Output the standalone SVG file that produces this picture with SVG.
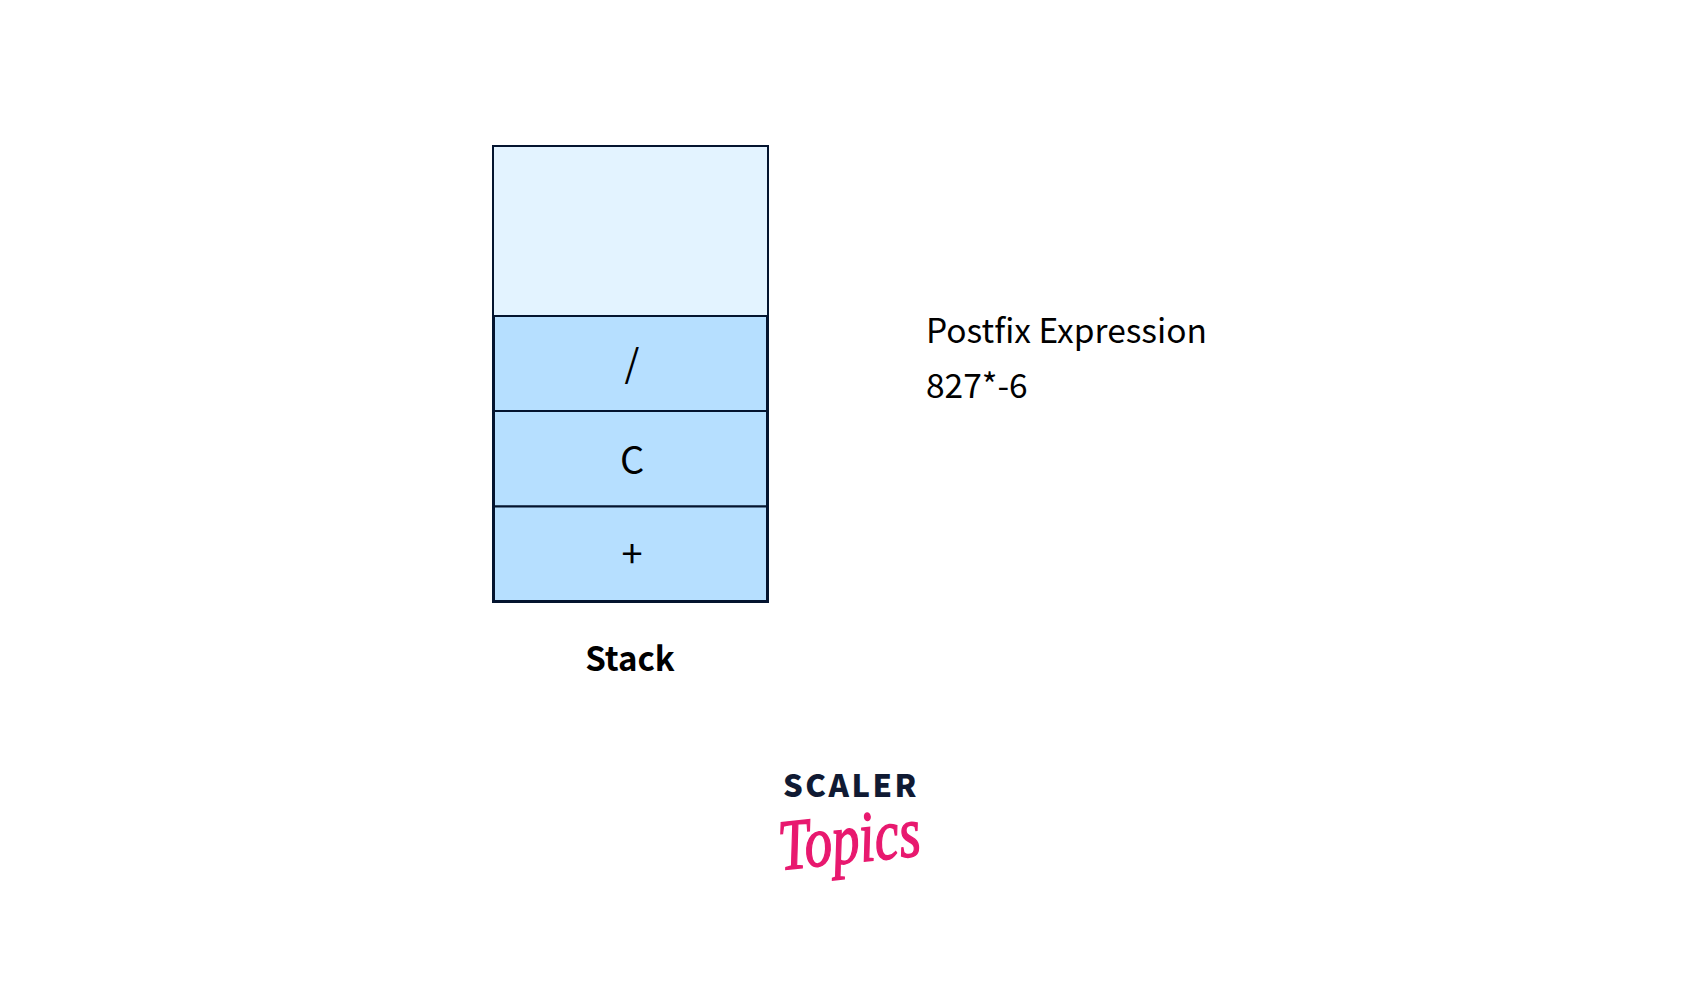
<svg xmlns="http://www.w3.org/2000/svg" width="1700" height="984" viewBox="0 0 1700 984">
<style>
text{font-family:"Noto Sans CJK SC","Noto Sans",sans-serif;fill:#000}
.cell{fill:#b6dfff;stroke:#04142f;stroke-width:2}
.lab{font-size:38px;text-anchor:middle}
.side{font-size:33.500px}
</style>
<rect width="1700" height="984" fill="#fff"/>
<g id="stack">
<rect id="stack-empty" x="493" y="146" width="275" height="170" fill="#e3f3ff" stroke="#04142f" stroke-width="2"/>
<g id="cell-slash"><rect class="cell" x="494" y="316" width="273.500" height="95"/><text class="lab" x="632" y="377">/</text></g>
<g id="cell-c"><rect class="cell" x="494" y="411" width="273.500" height="95.500"/><text class="lab" x="632" y="474">C</text></g>
<g id="cell-plus"><rect class="cell" x="494" y="506.500" width="273.500" height="95"/><text class="lab" x="632" y="568">+</text></g>
<path d="M493.500 316V601.500H767.500V316" fill="none" stroke="#04142f" stroke-width="3"/>
</g>
<g id="stack-label"><text x="630" y="671" text-anchor="middle" font-size="33" font-weight="600">Stack</text></g>
<g id="postfix"><text class="side" x="926" y="343">Postfix Expression</text><text class="side" x="926" y="398">827*-6</text></g>
<g id="logo">
<text x="851" y="797" text-anchor="middle" font-size="31" font-weight="800" letter-spacing="2.500" style="fill:#101a33">SCALER</text>
<text transform="translate(781 870) rotate(-6)" font-size="72" font-style="italic" textLength="142" lengthAdjust="spacingAndGlyphs" stroke="#e8196f" stroke-width="1.500" style="font-family:'Liberation Serif',serif;fill:#e8196f">Topics</text>
</g>
</svg>
